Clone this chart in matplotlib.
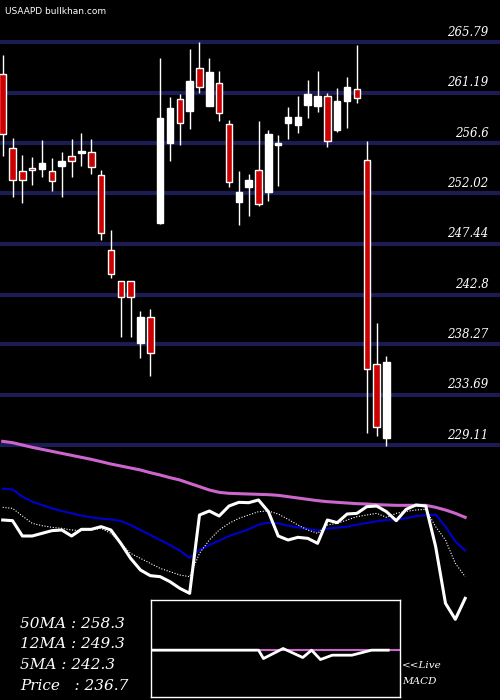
import matplotlib
matplotlib.use("Agg")
import matplotlib.pyplot as plt
import numpy as np

# OHLC
opens  = [262.85,256.11,254.02,254.32,254.20,254.02,254.54,255.39,255.69,255.75,253.66,246.83,244.01,244.01,238.43,240.77,249.32,256.63,260.57,259.48,263.39,260.00,262.03,258.30,251.26,252.63,254.11,252.14,256.39,258.45,258.27,260.09,259.97,260.85,257.81,260.39,261.48,255.02,236.46,229.73]
closes = [257.39,253.20,253.20,254.11,254.75,253.11,254.96,254.93,255.75,254.38,248.38,244.65,242.56,242.56,240.77,237.52,258.87,259.78,258.39,262.24,261.66,263.06,259.30,253.08,252.11,253.20,251.08,257.42,256.57,258.94,258.94,261.06,260.88,256.75,260.42,261.66,260.66,236.00,230.76,236.64]
highs  = [264.61,257.06,255.51,255.33,256.87,255.24,255.78,256.99,257.48,256.99,254.11,248.68,244.01,244.01,241.31,241.46,264.33,260.76,261.06,265.15,265.79,264.33,263.15,258.69,254.05,253.78,258.60,257.78,257.33,259.88,260.88,262.33,263.15,261.15,261.60,262.60,265.52,256.78,240.22,237.22]
lows   = [255.42,251.72,251.17,252.81,253.54,252.26,251.72,253.54,254.54,253.78,247.80,244.35,238.98,238.98,237.07,235.43,249.23,254.99,256.42,257.90,261.18,260.00,258.63,252.63,249.17,249.99,250.90,251.35,252.72,256.99,257.54,258.87,259.45,256.20,257.63,258.00,260.27,230.24,229.94,229.06]

# indicator lines (pixel-scale values)
ma50_line = [34,38,45,52,58,64,70,76,82,88,95,102,108,114,120,128,135,143,150,160,170,180,187,190,191,192,193,194,196,200,204,208,212,215,217,219,221,222,224,225,226,226,226,226,232,240,250,262]
ma12_line = [176,178,200,215,225,235,243,250,257,262,266,268,273,285,300,315,330,345,362,383,360,345,332,318,308,298,284,278,280,287,292,296,302,296,293,290,284,279,274,270,268,265,258,256,254,290,334,362]
ma_dot    = [232,235,258,280,287,292,295,300,302,300,295,310,340,370,385,400,415,425,435,440,370,330,300,280,265,255,245,243,252,268,285,300,310,285,280,270,260,255,250,262,250,244,240,238,290,330,400,440]
ma5_line  = [270,272,318,318,310,302,300,318,298,298,290,300,340,385,420,437,440,455,475,490,255,243,258,228,217,218,210,245,318,330,322,325,340,270,278,252,250,230,228,245,272,238,225,228,350,520,568,505]

macd_x = [15.05,26.0,26.5,28.5,30.5,31.4,32.3,33.5,35.5,37.5,38.5,39.2]
macd_y = [660,660,685,655,682,660,688,675,675,660,660,660]
signal_x = [15.05,40.4]
signal_y = [660,660]

levels = [265.79,261.19,256.6,252.02,247.44,242.8,238.27,233.69,229.11]
level_labels = ["265.79","261.19","256.6","252.02","247.44","242.8","238.27","233.69","229.11"]

fig = plt.figure(figsize=(5,7), dpi=100, facecolor="black")
ax = fig.add_axes([0,0,1,1], facecolor="black")
ax.set_xlim(-0.274, 50.54)
ax.set_ylim(205.92, 269.61)
ax.axis("off")

for lv, lb in zip(levels, level_labels):
    ax.axhline(lv, color="#1c1c55", lw=3, zorder=1)
    ax.text(49.4, lv+0.3, lb, color="white", fontsize=8.5, family="DejaVu Serif",
            style="italic", ha="right", va="bottom", zorder=5)

w = 0.66
for i,(o,c,h,l) in enumerate(zip(opens,closes,highs,lows)):
    ax.vlines(i, l, h, color="white", lw=1, zorder=2)
    fc = "white" if c >= o else "#cc0000"
    bot, top = min(o,c), max(o,c)
    ax.add_patch(plt.Rectangle((i-w/2, bot), w, max(top-bot,0.15), facecolor=fc,
                               edgecolor="white", lw=1, zorder=3))

ax2 = fig.add_axes([0,0,1,1], facecolor="none")
ax2.set_xlim(-0.274, 50.54)
ax2.set_ylim(700, 0)
ax2.axis("off")
xs = np.arange(len(ma50_line))
conv = lambda a: np.array(a)/3 + 430
ax2.plot(xs, conv(ma50_line), color="#cc66cc", lw=2.2)
ax2.plot(xs, conv(ma12_line), color="#0000cc", lw=1.5)
ax2.plot(xs, conv(ma_dot), color="white", lw=0.8, ls=(0,(1,1.5)))
ax2.plot(xs, conv(ma5_line), color="white", lw=2.2)

ax3 = fig.add_axes([151/500, 3/700, 249/500, 97/700], facecolor="black")
ax3.set_xlim(15.05, 40.4)
ax3.set_ylim(800, 510)
ax3.set_xticks([]); ax3.set_yticks([])
for s in ax3.spines.values():
    s.set_color("white"); s.set_linewidth(1)
ax3.plot(signal_x, signal_y, color="#cc66cc", lw=1.5)
ax3.plot(macd_x, macd_y, color="white", lw=2)

fig.text(0.01, 0.983, "USAAPD bullkhan.com", color="white", fontsize=6.5, va="center")
labels = ["50MA : 258.3", "12MA : 249.3", "5MA : 242.3", "Price   : 236.7"]
for k, t in enumerate(labels):
    fig.text(20/500, 1-(624+20.5*k)/700, t, color="white", fontsize=11,
             family="DejaVu Serif", style="italic", va="center")
fig.text(402/500, 1-666/700, "<<Live", color="white", fontsize=7.5, family="DejaVu Serif", style="italic", va="center")
fig.text(402/500, 1-681/700, "MACD", color="white", fontsize=7.5, family="DejaVu Serif", style="italic", va="center")

fig.savefig("out.png", dpi=100, facecolor="black")
